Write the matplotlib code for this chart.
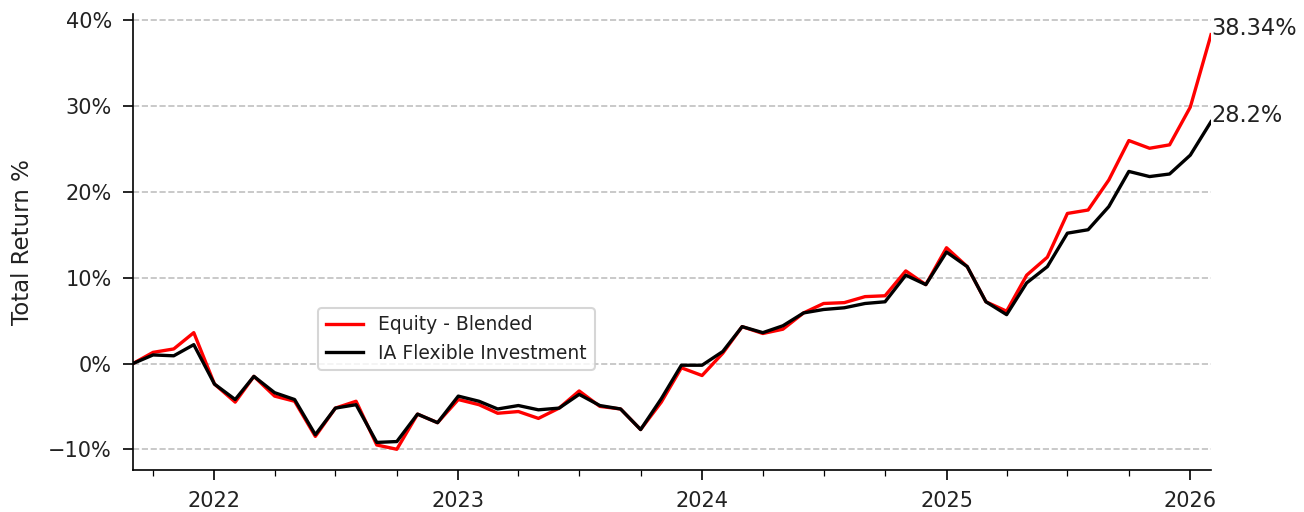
"""Total return comparison: Equity - Blended vs IA Flexible Investment."""

import matplotlib

matplotlib.use("Agg")
import matplotlib.dates as mdates
import matplotlib.pyplot as plt
import pandas as pd
from matplotlib.ticker import PercentFormatter

dates = pd.date_range("2021-09-01", periods=54, freq="MS")

equity_blended = [
    0.0, 1.3, 1.7, 3.6, -2.4, -4.5, -1.5, -3.8, -4.4, -8.5,
    -5.2, -4.4, -9.5, -10.0, -5.9, -6.9, -4.2, -4.8, -5.8, -5.6,
    -6.4, -5.2, -3.2, -5.0, -5.3, -7.7, -4.5, -0.5, -1.4, 1.2,
    4.3, 3.5, 4.0, 5.9, 7.0, 7.1, 7.8, 7.9, 10.8, 9.2,
    13.5, 11.3, 7.2, 6.1, 10.3, 12.4, 17.5, 17.9, 21.4, 26.0,
    25.1, 25.5, 29.9, 38.34,
]
ia_flexible = [
    0.0, 1.0, 0.9, 2.2, -2.4, -4.2, -1.5, -3.4, -4.2, -8.3,
    -5.2, -4.8, -9.2, -9.1, -5.9, -6.9, -3.8, -4.4, -5.3, -4.9,
    -5.4, -5.2, -3.6, -4.9, -5.3, -7.7, -4.1, -0.2, -0.2, 1.4,
    4.3, 3.6, 4.4, 5.9, 6.3, 6.5, 7.0, 7.2, 10.3, 9.2,
    13.0, 11.3, 7.2, 5.7, 9.4, 11.3, 15.2, 15.6, 18.3, 22.4,
    21.8, 22.1, 24.3, 28.2,
]

fig = plt.figure(figsize=(1304 / 150, 512 / 150), dpi=150)
ax = fig.add_axes([133 / 1304, 42 / 512, 1078 / 1304, 456 / 512])

ax.plot(dates, equity_blended, color="red", lw=1.6, label="Equity - Blended")
ax.plot(dates, ia_flexible, color="black", lw=1.6, label="IA Flexible Investment")

ax.text(dates[-1], equity_blended[-1], f"{equity_blended[-1]}%",
        fontsize=10.8, color="#222222")
ax.text(dates[-1], ia_flexible[-1], f"{ia_flexible[-1]}%",
        fontsize=10.8, color="#222222")

ax.set_xlim(dates[0], dates[-1])
ax.xaxis.set_major_locator(mdates.YearLocator())
ax.xaxis.set_major_formatter(mdates.DateFormatter("%Y"))
ax.xaxis.set_minor_locator(mdates.MonthLocator(bymonth=[1, 4, 7, 10]))
ax.yaxis.set_major_formatter(PercentFormatter(decimals=0))
ax.tick_params(which="major", length=4.8, pad=5.3, labelsize=10,
               labelcolor="#222222")
ax.tick_params(which="minor", length=3)
ax.set_ylabel("Total Return %", fontsize=11, labelpad=7, color="#222222")

ax.grid(True, axis="y", linestyle="--", color="#b0b0b0", alpha=0.8)
ax.spines["top"].set_visible(False)
ax.spines["right"].set_visible(False)

ax.legend(loc="lower left", bbox_to_anchor=(0.172, 0.219),
          borderaxespad=0, fontsize=9, labelcolor="#222222")

fig.savefig("out.png", dpi=150)
plt.close(fig)
